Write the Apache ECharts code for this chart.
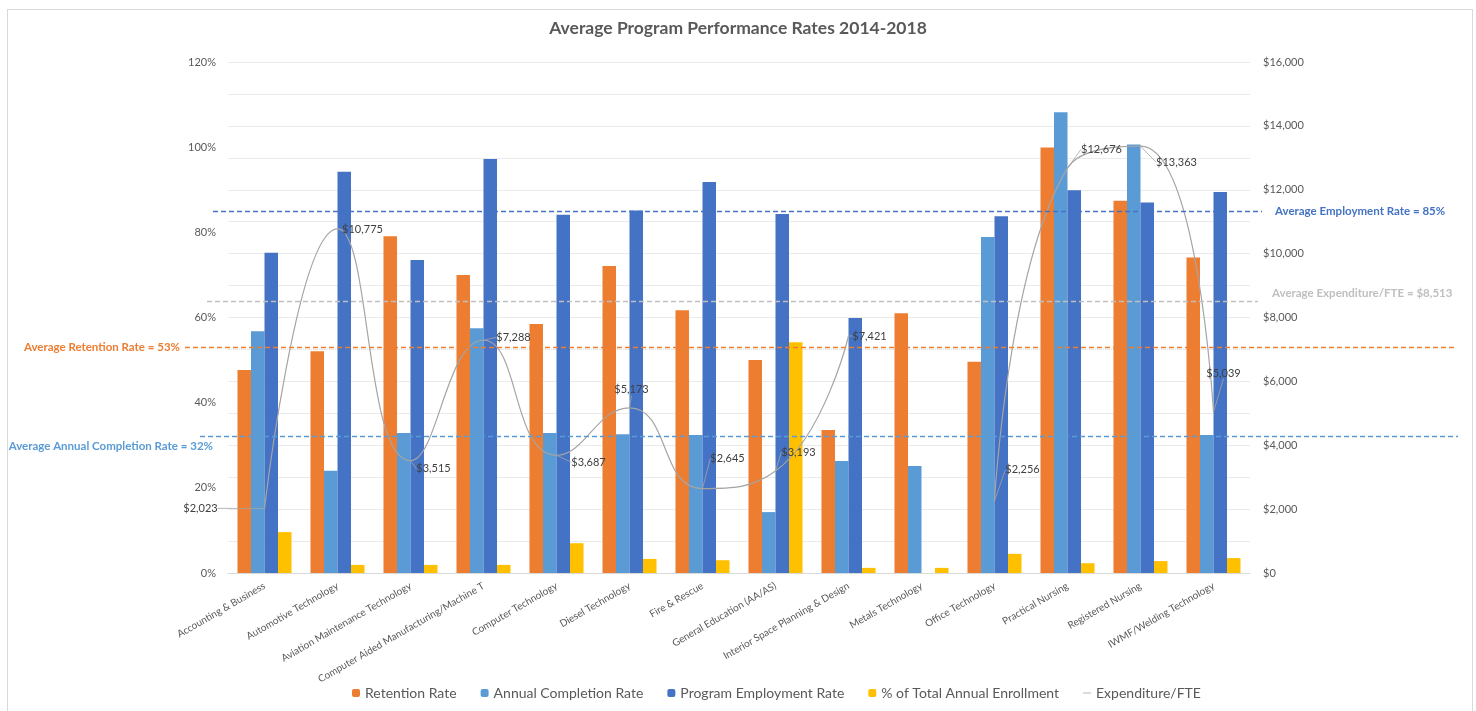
<!DOCTYPE html>
<html>
<head>
<meta charset="utf-8">
<script src="https://cdn.jsdelivr.net/npm/echarts@6/dist/echarts.min.js"></script>
<style>
  body { margin: 0; background: #fff; }
  #frame { position: absolute; left: 7px; top: 9px; width: 1466px; height: 710px; border: 1px solid #d9d9d9; box-sizing: border-box; }
  #chart { position: absolute; left: 0; top: 0; width: 1476px; height: 711px; }
</style>
</head>
<body>
<div id="frame"></div>
<div id="chart"></div>
<script>
const categories = [
  'Accounting & Business', 'Automotive Technology', 'Aviation Maintenance Technology',
  'Computer Aided Manufacturing/Machine T', 'Computer Technology', 'Diesel Technology',
  'Fire & Rescue', 'General Education (AA/AS)', 'Interior Space Planning & Design',
  'Metals Technology', 'Office Technology', 'Practical Nursing', 'Registered Nursing',
  'IWMF/Welding Technology'
];
const retention = [47.7, 52.1, 79.1, 70.0, 58.5, 72.1, 61.7, 50.0, 33.6, 61.0, 49.6, 99.9, 87.4, 74.1];
const completion = [56.8, 24.0, 32.9, 57.5, 32.9, 32.6, 32.4, 14.3, 26.3, 25.1, 78.9, 108.2, 100.6, 32.4];
const employment = [75.2, 94.2, 73.5, 97.2, 84.1, 85.1, 91.8, 84.3, 59.9, null, 83.8, 89.9, 87.0, 89.5];
const enrollment = [9.6, 1.9, 1.9, 1.9, 7.0, 3.3, 3.0, 54.2, 1.2, 1.2, 4.5, 2.3, 2.8, 3.5];
const expenditure = [2023, 10775, 3515, 7288, 3687, 5173, 2645, 3193, 7421, null, 2256, 12676, 13363, 5039];

const avgRetention = 53;
const avgCompletion = 32;
const avgEmployment = 85;
const avgExpenditure = 8513;

// where each $ label sits relative to its point (dx, dy)
const labelShift = [
  [-64, 0], [25, 1], [23, 8], [30, -3], [32, 7], [2, -18], [25, -30],
  [23, -19], [21, 0], [0, 0], [28, -31], [34, -19], [36, 16], [10, -39]
];

const FONT = 'Lato';
const money = v => '$' + Number(v).toLocaleString('en-US');

function avgLine(value, color, x0, x1, text, pos, dist, lineHeight) {
  return [
    {
      yAxis: value, x: x0,
      lineStyle: { color: color, type: [5, 3], width: 1.3 },
      label: {
        show: true, position: pos, distance: dist, formatter: text,
        color: color, fontFamily: FONT, fontWeight: 'bold', fontSize: 11.5,
        lineHeight: lineHeight || 14
      }
    },
    { yAxis: value, x: x1 }
  ];
}

const chart = echarts.init(document.getElementById('chart'));

chart.setOption({
  animation: false,
  textStyle: { fontFamily: FONT },
  title: {
    text: 'Average Program Performance Rates 2014-2018',
    left: 'center',
    top: 14,
    textStyle: { fontFamily: FONT, fontSize: 17.5, fontWeight: 'bold', color: '#595959' }
  },
  legend: {
    left: 347,
    top: 681,
    itemWidth: 8,
    itemHeight: 8,
    itemGap: 24,
    textStyle: { fontFamily: FONT, fontSize: 14, color: '#595959' },
    data: [
      'Retention Rate', 'Annual Completion Rate', 'Program Employment Rate',
      '% of Total Annual Enrollment',
      { name: 'Expenditure/FTE', icon: 'path://M0,5 L12,5 L12,6.2 L0,6.2 Z' }
    ]
  },
  grid: { left: 228, right: 226, top: 62, bottom: 138 },
  xAxis: {
    type: 'category',
    data: categories,
    axisTick: { show: false },
    axisLine: { lineStyle: { color: '#d9d9d9' } },
    axisLabel: { interval: 0, rotate: 30, fontSize: 10, color: '#595959', margin: 12, fontFamily: FONT }
  },
  yAxis: [
    {
      type: 'value', min: 0, max: 120, interval: 20,
      axisLabel: { formatter: '{value}%', color: '#595959', fontSize: 11, margin: 12, fontFamily: FONT },
      axisLine: { show: false }, axisTick: { show: false },
      splitLine: { show: false }
    },
    {
      type: 'value', min: 0, max: 16000, interval: 1000,
      axisLabel: {
        formatter: v => (v % 2000 ? '' : money(v)),
        color: '#595959', fontSize: 11, margin: 13, fontFamily: FONT
      },
      axisLine: { show: false }, axisTick: { show: false },
      splitLine: { lineStyle: { color: '#ebebeb' } }
    }
  ],
  series: [
    {
      name: 'Retention Rate', type: 'bar', data: retention,
      barGap: '0%', barCategoryGap: '26%',
      itemStyle: { color: '#ed7d31' },
      markLine: {
        silent: true,
        symbol: ['none', 'none'],
        data: [
          avgLine(avgRetention, '#ed7d31', 185, 1455, 'Average Retention Rate = 53%', 'start', 5),
          avgLine(avgCompletion, '#5b9bd5', 200, 1458, '\nAverage Annual Completion Rate = 32%', 'start', -13, 20),
          avgLine(avgEmployment, '#4472c4', 213, 1262, 'Average Employment Rate = 85%', 'end', 13)
        ]
      }
    },
    {
      name: 'Annual Completion Rate', type: 'bar', data: completion,
      itemStyle: { color: '#5b9bd5' }
    },
    {
      name: 'Program Employment Rate', type: 'bar', data: employment,
      itemStyle: { color: '#4472c4' }
    },
    {
      name: '% of Total Annual Enrollment', type: 'bar', data: enrollment,
      itemStyle: { color: '#ffc000' }
    },
    {
      name: 'Expenditure/FTE', type: 'line', yAxisIndex: 1, data: expenditure,
      smooth: true,
      symbol: 'circle', symbolSize: 1, showSymbol: true,
      lineStyle: { color: '#a5a5a5', width: 1.2 },
      itemStyle: { color: '#a5a5a5' },
      label: {
        show: true, position: 'inside', formatter: p => money(p.value),
        color: '#404040', fontSize: 11, fontFamily: FONT
      },
      labelLine: { show: true, lineStyle: { color: '#a5a5a5', width: 0.8 } },
      labelLayout: p => {
        const s = labelShift[p.dataIndex] || [0, 0];
        return { dx: s[0], dy: s[1] };
      },
      markLine: {
        silent: true,
        symbol: ['none', 'none'],
        data: [
          avgLine(avgExpenditure, '#bfbfbf', 207, 1258, 'Average Expenditure/FTE = $8,513\n', 'end', 14, 16)
        ]
      }
    }
  ]
});
</script>
</body>
</html>
